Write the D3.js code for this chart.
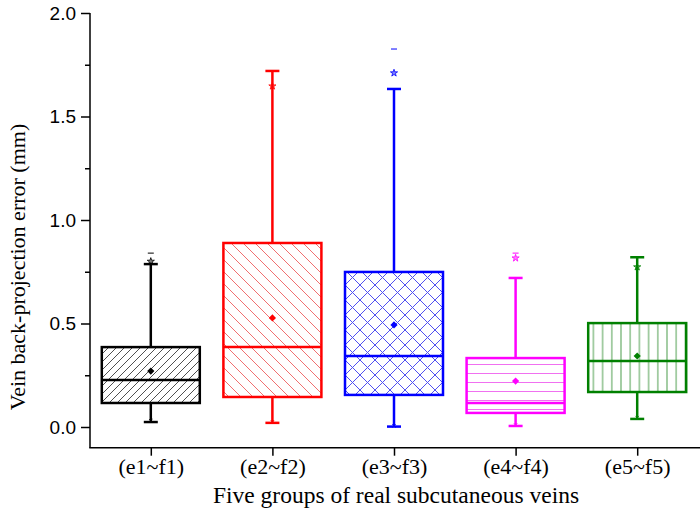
<!DOCTYPE html>
<html><head><meta charset="utf-8">
<script src="https://cdn.jsdelivr.net/npm/d3@7"></script>
<style>body{margin:0;background:#fff}svg{display:block}</style>
</head><body>
<svg id="c" width="700" height="523"></svg>
<script>
const categories = ["(e1~f1)","(e2~f2)","(e3~f3)","(e4~f4)","(e5~f5)"];
const colors = ["#000000","#ff0000","#0000ff","#ff00ff","#008000"];
const q1 = [0.116, 0.145, 0.155, 0.068, 0.169];
const median = [0.227, 0.386, 0.343, 0.116, 0.319];
const q3 = [0.386, 0.889, 0.749, 0.333, 0.502];
const mean = [0.270, 0.527, 0.493, 0.222, 0.343];
const whiskerLow = [0.024, 0.020, 0.002, 0.005, 0.039];
const whiskerHigh = [0.787, 1.720, 1.633, 0.720, 0.820];
const p99 = [0.800, 1.647, 1.710, 0.816, 0.773];
const maxVal = [0.840, null, 1.826, 0.840, null];
const p1 = [0.030, 0.025, 0.005, 0.010, 0.045];
const yTicks = [0.0, 0.5, 1.0, 1.5, 2.0];
const yMinorTicks = [0.25, 0.75, 1.25, 1.75];
const patterns = ["diagUp","diagDown","cross","horiz","vert"];

const svg = d3.select("#c");
const x = d3.scaleLinear().domain([0.5, 5.5]).range([90, 698]);
const y = d3.scaleLinear().domain([-0.1, 2.0]).range([447.7, 13]);

const defs = svg.append("defs");
function pat(id, size, color, draw) {
  const p = defs.append("pattern").attr("id", id).attr("patternUnits","userSpaceOnUse")
    .attr("width", size).attr("height", size);
  draw(p, size, color);
}
function lines(p, arr, c, w){ arr.forEach(l=>p.append("line").attr("x1",l[0]).attr("y1",l[1]).attr("x2",l[2]).attr("y2",l[3]).attr("stroke",c).attr("stroke-width",w)); }
pat("diagUp", 8, "#505050", (p,s,c)=>lines(p,[[-1,1,1,-1],[0,s,s,0],[s-1,s+1,s+1,s-1]],c,1));
pat("diagDown", 12, "#f07070", (p,s,c)=>lines(p,[[-1,-1,1,1],[0,0,s,s],[s-1,s-1,s+1,s+1]],c,1));
pat("cross", 15, "#5050f0", (p,s,c)=>lines(p,[[-1,-1,1,1],[0,0,s,s],[s-1,s-1,s+1,s+1],[-1,1,1,-1],[0,s,s,0],[s-1,s+1,s+1,s-1]],c,1));
pat("horiz", 9, "#f070f0", (p,s,c)=>lines(p,[[0,s/2,s,s/2]],c,1));
pat("vert", 9.2, "#50a050", (p,s,c)=>lines(p,[[s/2,0,s/2,s]],c,1));

// axes
const yAxis = d3.axisLeft(y).tickValues(yTicks).tickFormat(d3.format(".1f")).tickSize(9).tickPadding(5);
const gy = svg.append("g").attr("transform","translate(90,0)").call(yAxis);
gy.select(".domain").remove();
gy.selectAll(".tick line").attr("stroke-width",1.5);
gy.selectAll("text").attr("font-family","Liberation Sans, Arial, sans-serif").attr("font-size",19).attr("fill","#000");
svg.append("g").attr("transform","translate(90,0)").call(d3.axisLeft(y).tickValues(yMinorTicks).tickSize(5).tickFormat(""))
  .call(g=>{g.select(".domain").remove(); g.selectAll(".tick line").attr("stroke-width",1.5);});
svg.append("line").attr("x1",90).attr("x2",90).attr("y1",y(2.0)).attr("y2",y(-0.1)).attr("stroke","#000").attr("stroke-width",1.5);

const xAxis = d3.axisBottom(x).tickValues([1,2,3,4,5]).tickFormat((d,i)=>categories[i]).tickSize(8).tickPadding(3);
const gx = svg.append("g").attr("transform",`translate(0,${y(-0.1)})`).call(xAxis);
gx.select(".domain").remove();
gx.selectAll(".tick line").attr("stroke-width",1.5);
gx.selectAll("text").attr("font-family","Liberation Serif, Times New Roman, serif").attr("font-size",22).attr("fill","#000");
svg.append("line").attr("x1",89.25).attr("x2",700).attr("y1",y(-0.1)).attr("y2",y(-0.1)).attr("stroke","#000").attr("stroke-width",1.5);

svg.append("text").attr("x",396).attr("y",503).attr("text-anchor","middle")
  .attr("font-family","Liberation Serif, Times New Roman, serif").attr("font-size",23.5).text("Five groups of real subcutaneous veins");
svg.append("text").attr("transform","translate(25,267) rotate(-90)").attr("text-anchor","middle")
  .attr("font-family","Liberation Serif, Times New Roman, serif").attr("font-size",22).text("Vein back-projection error (mm)");

// boxes
const bw = 98, cap = 14;
categories.forEach((c,i)=>{
  const cx = x(i+1), col = colors[i];
  const g = svg.append("g");
  g.append("line").attr("x1",cx).attr("x2",cx).attr("y1",y(q3[i])).attr("y2",y(whiskerHigh[i])).attr("stroke",col).attr("stroke-width",2.5);
  g.append("line").attr("x1",cx).attr("x2",cx).attr("y1",y(q1[i])).attr("y2",y(whiskerLow[i])).attr("stroke",col).attr("stroke-width",2.5);
  g.append("line").attr("x1",cx-cap/2).attr("x2",cx+cap/2).attr("y1",y(whiskerHigh[i])).attr("y2",y(whiskerHigh[i])).attr("stroke",col).attr("stroke-width",2.5);
  g.append("line").attr("x1",cx-cap/2).attr("x2",cx+cap/2).attr("y1",y(whiskerLow[i])).attr("y2",y(whiskerLow[i])).attr("stroke",col).attr("stroke-width",2.5);
  g.append("rect").attr("x",cx-bw/2).attr("y",y(q3[i])).attr("width",bw).attr("height",y(q1[i])-y(q3[i]))
    .attr("fill",`url(#${patterns[i]})`).attr("stroke",col).attr("stroke-width",2.5);
  g.append("line").attr("x1",cx-bw/2).attr("x2",cx+bw/2).attr("y1",y(median[i])).attr("y2",y(median[i])).attr("stroke",col).attr("stroke-width",2.5);
  g.append("path").attr("d",d3.symbol(d3.symbolSquare, 26)()).attr("transform",`translate(${cx},${y(mean[i])}) rotate(45)`).attr("fill",col);
  g.append("path").attr("d",d3.symbol(d3.symbolStar, 16)()).attr("transform",`translate(${cx},${y(p99[i])})`).attr("fill",col).attr("fill-opacity",0.5).attr("stroke",col).attr("stroke-width",0.8);
  if (maxVal[i] !== null) g.append("line").attr("x1",cx-3).attr("x2",cx+3).attr("y1",y(maxVal[i])).attr("y2",y(maxVal[i])).attr("stroke",col).attr("stroke-width",1);
  g.append("path").attr("d",d3.symbol(d3.symbolX, 10)()).attr("transform",`translate(${cx},${y(p1[i])})`).attr("stroke",col).attr("stroke-width",0.8).attr("fill","none");
});
</script>
</body></html>
